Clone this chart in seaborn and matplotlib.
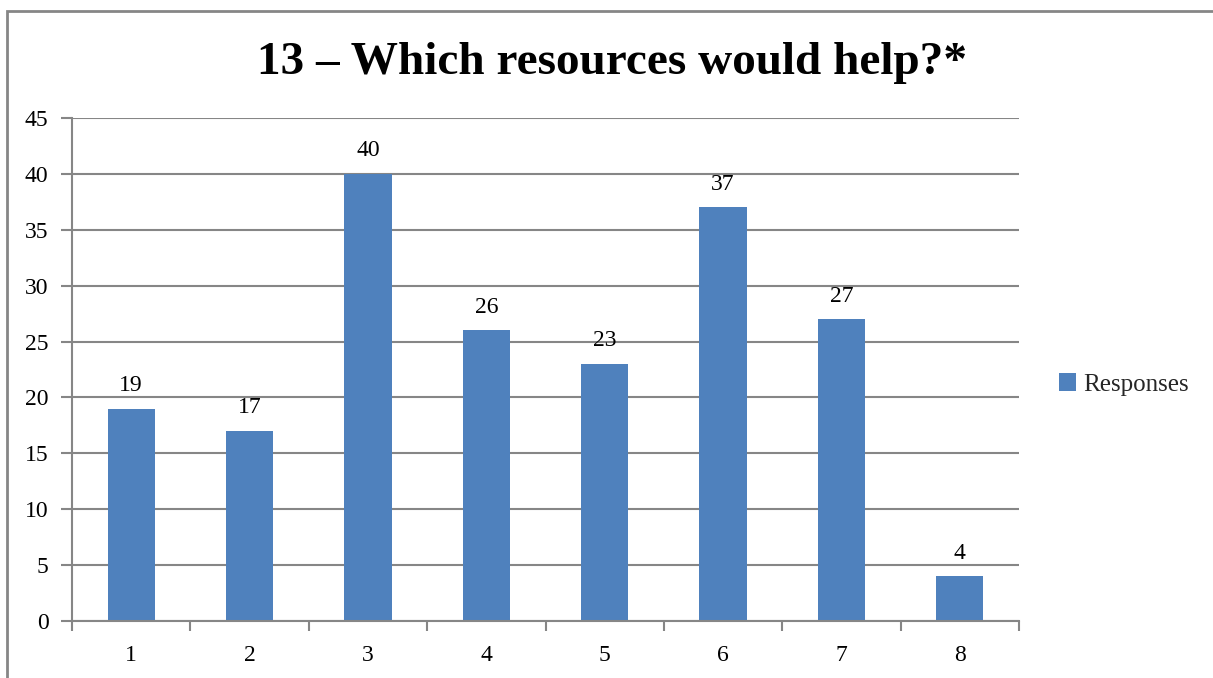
import matplotlib
matplotlib.use("Agg")
import matplotlib.pyplot as plt
import seaborn as sns
import pandas as pd
import numpy as np
from matplotlib.patches import Rectangle

categories = ["1", "2", "3", "4", "5", "6", "7", "8"]
responses = [19, 17, 40, 26, 23, 37, 27, 4]
yticks = [0, 5, 10, 15, 20, 25, 30, 35, 40, 45]
title = "13 – Which resources would help?*"
series_name = "Responses"

sns.set_theme(style="white")
plt.rcParams['font.family'] = ['Liberation Serif', 'DejaVu Serif']

df = pd.DataFrame({"cat": categories, "val": responses, "series": series_name})

fig = plt.figure(figsize=(12.13, 6.78), dpi=100)
ax = fig.add_axes([72/1213, 57/678, (1019-72)/1213, (621-118)/678])

bar_color = "#4F81BD"
grid_color = "#868686"

sns.barplot(data=df, x="cat", y="val", hue="series", palette=[bar_color],
            width=0.4, ax=ax, saturation=1, legend=True, linewidth=0,
            edgecolor="none")

ax.set_ylim(0, 45)
ax.set_xlim(-0.5, len(categories) - 0.5)
ax.set_yticks(yticks)
ax.set_xlabel("")
ax.set_ylabel("")

ax.yaxis.grid(True, color=grid_color, linewidth=1.5)
ax.set_axisbelow(True)
for s in ["top", "right"]:
    ax.spines[s].set_visible(False)
for s in ["left", "bottom"]:
    ax.spines[s].set_color(grid_color)
    ax.spines[s].set_linewidth(1.5)

ax.tick_params(axis="y", which="major", length=8, width=1.5, color=grid_color,
               labelsize=17, pad=9, left=True)
ax.tick_params(axis="x", which="major", length=0, labelsize=17, pad=17)
ax.set_xticks(np.arange(-0.5, len(categories)), minor=True)
ax.tick_params(axis="x", which="minor", length=7, width=1.5, color=grid_color,
               bottom=True)

for i, v in enumerate(responses):
    ax.annotate(str(v), (i, v), xytext=(0, 9), textcoords="offset points",
                ha="center", va="bottom", fontsize=17, color="black")

for lab in ax.get_xticklabels() + ax.get_yticklabels():
    lab.set_color("black")

leg = ax.legend(loc="center left", bbox_to_anchor=(1.018, 0.47), frameon=False,
                fontsize=18, handlelength=0.7, handleheight=0.7, handletextpad=0.3)

fig.text(612/1213, 1 - 63/678, title, ha="center", va="center",
         fontsize=34, fontweight="bold", color="black")

fig.patches.append(Rectangle((7/1213, -0.1), 1.2, 1 - 11/678 + 0.1,
                             transform=fig.transFigure, fill=False,
                             edgecolor=grid_color, linewidth=2))

fig.savefig("out.png", dpi=100)
